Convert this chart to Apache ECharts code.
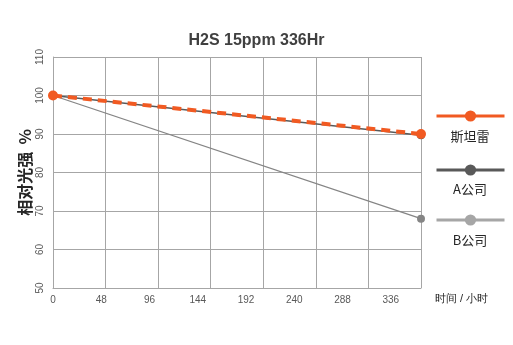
<!DOCTYPE html>
<html>
<head>
<meta charset="utf-8">
<script src="https://cdn.jsdelivr.net/npm/echarts@6/dist/echarts.min.js"></script>
<style>
    html, body { margin: 0; padding: 0; background: #fff; }
    #main { width: 513px; height: 345px; }
</style>
</head>
<body>
<div id="main"></div>
<script>
/** ---------- 数据 ---------- */
var seriesNames = ['斯坦雷', 'A公司', 'B公司'];
var hours = [0, 336];
var stanley = [100, 90];
var companyA = [100, 89.7];
var companyB = [100, 68];
var xTicks = [0, 48, 96, 144, 192, 240, 288, 336];

var colors = {
    stanley: '#f15a22',
    a: '#595959',
    b: '#858585',
    bLegend: '#a6a6a6'
};
var fontFamily = '"Liberation Sans", Arial, "Noto Sans CJK SC", sans-serif';

function pairs(xs, ys) {
    var out = [];
    for (var i = 0; i < xs.length; i++) {
        out.push([xs[i], ys[i]]);
    }
    return out;
}

/** ---------- 初始化图表 ---------- */
function initChart() {
    var chart = echarts.init(document.getElementById('main'));
    var gridColor = '#a6a6a6';

    // 图例：每项单独一个，名字放在图标下面
    function oneLegend(name, top, legendColor, solid) {
        var item = { name: name, itemStyle: { color: legendColor }, lineStyle: { color: legendColor, width: 3 } };
        if (solid) item.lineStyle.type = 'solid';
        return {
            data: [item],
            left: 435,
            top: top,
            padding: 0,
            itemWidth: 68,
            itemHeight: 14,
            formatter: function () { return ''; },
            selectedMode: false
        };
    }

    function legendText(name, y) {
        return {
            type: 'text',
            x: 470,
            y: y,
            style: {
                text: name,
                textAlign: 'center',
                textVerticalAlign: 'middle',
                fill: '#262626',
                font: '13px "Noto Sans CJK SC", sans-serif'
            }
        };
    }

    var option = {
        animation: false,
        title: {
            text: 'H2S 15ppm 336Hr',
            left: 'center',
            top: 28,
            textStyle: { fontSize: 16, fontWeight: 'bold', color: '#404040', fontFamily: fontFamily }
        },
        legend: [
            oneLegend(seriesNames[0], 109, colors.stanley, true),
            oneLegend(seriesNames[1], 163, colors.a, false),
            oneLegend(seriesNames[2], 213, colors.bLegend, false)
        ],
        graphic: [
            legendText(seriesNames[0], 136),
            legendText(seriesNames[1], 189),
            legendText(seriesNames[2], 240)
        ],
        grid: { left: 53, right: 92, top: 57, bottom: 57 },
        xAxis: [
            {
                type: 'value',
                min: 0,
                max: 336,
                interval: 48,
                axisLine: { show: true, lineStyle: { color: gridColor } },
                axisTick: { show: false },
                axisLabel: { show: false },
                splitLine: { show: true, lineStyle: { color: gridColor } },
                name: '时间 / 小时',
                nameLocation: 'end',
                nameGap: 14,
                nameTextStyle: { color: '#262626', fontSize: 11, verticalAlign: 'top', padding: [5, 0, 0, 0] }
            },
            {
                // 刻度标签
                type: 'value',
                position: 'bottom',
                min: 0,
                max: 366,
                interval: 48,
                axisLine: { show: false },
                axisTick: { show: false },
                splitLine: { show: false },
                axisLabel: {
                    margin: 7,
                    color: '#595959',
                    fontSize: 10,
                    fontFamily: fontFamily,
                    formatter: function (v) { return xTicks.indexOf(v) >= 0 ? String(v) : ''; }
                }
            }
        ],
        yAxis: {
            type: 'value',
            min: 50,
            max: 110,
            interval: 10,
            axisLine: { show: true, lineStyle: { color: gridColor } },
            axisTick: { show: false },
            splitLine: { show: true, lineStyle: { color: gridColor } },
            axisLabel: { rotate: 90, margin: 8, color: '#595959', fontSize: 10, fontFamily: fontFamily },
            name: '相对光强  %',
            nameLocation: 'middle',
            nameRotate: 90,
            nameGap: 20,
            nameMoveOverlap: false,
            nameTextStyle: { color: '#262626', fontSize: 16, fontWeight: 'bold', fontFamily: '"Noto Sans CJK SC", sans-serif' }
        },
        series: [
            {
                name: seriesNames[2],
                type: 'line',
                data: pairs(hours, companyB),
                color: colors.b,
                symbol: 'circle',
                symbolSize: 8,
                lineStyle: { width: 1.3, color: colors.b },
                itemStyle: { color: colors.b }
            },
            {
                name: seriesNames[1],
                type: 'line',
                data: pairs(hours, companyA),
                color: colors.a,
                symbol: 'circle',
                symbolSize: 8,
                lineStyle: { width: 1.5, color: colors.a },
                itemStyle: { color: colors.a }
            },
            {
                name: seriesNames[0],
                type: 'line',
                data: pairs(hours, stanley),
                color: colors.stanley,
                symbol: 'circle',
                symbolSize: 10,
                lineStyle: { width: 4, type: [9, 6], color: colors.stanley },
                itemStyle: { color: colors.stanley }
            }
        ]
    };
    chart.setOption(option);
}

initChart();
</script>
</body>
</html>
